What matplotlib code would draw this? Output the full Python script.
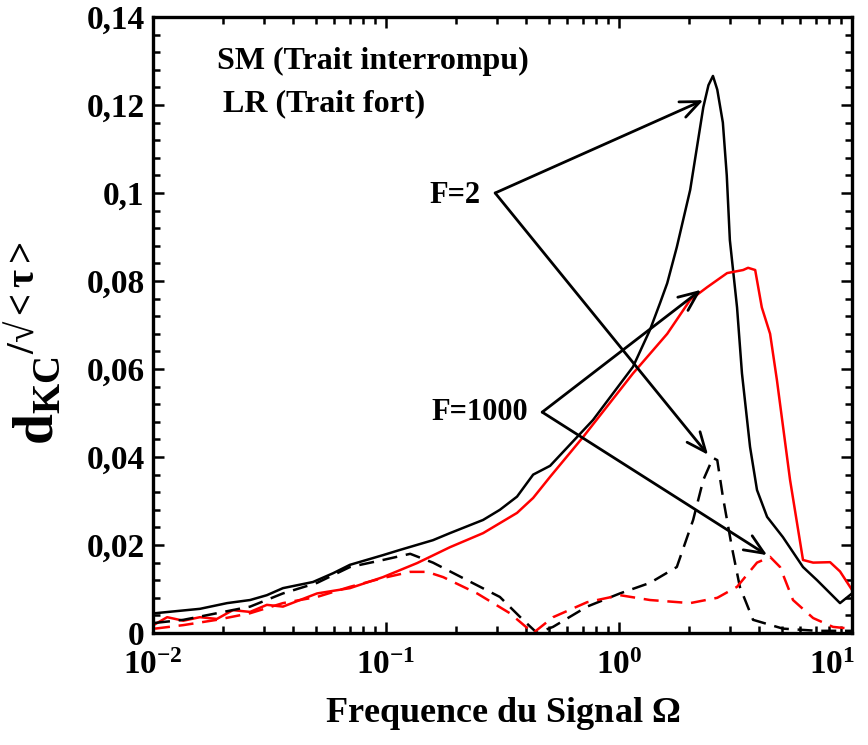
import matplotlib
matplotlib.use("Agg")
import matplotlib.pyplot as plt
import matplotlib.transforms as mtransforms
from matplotlib.ticker import FixedLocator, FixedFormatter, MultipleLocator, LogLocator, NullFormatter

plt.rcParams['font.family'] = ['Liberation Serif', 'DejaVu Serif']
plt.rcParams['font.weight'] = 'bold'
plt.rcParams['mathtext.fontset'] = 'custom'
plt.rcParams['mathtext.rm'] = 'Liberation Serif:bold'
plt.rcParams['mathtext.bf'] = 'Liberation Serif:bold'
plt.rcParams['mathtext.it'] = 'Liberation Serif:bold:italic'

# LR, F=2 (black solid)
lr2_x = [0.0102, 0.0159, 0.0208, 0.0261, 0.0308, 0.0361, 0.0486, 0.0593, 0.070, 0.097, 0.115, 0.159,
         0.188, 0.261, 0.308, 0.365, 0.428, 0.506, 0.773, 1.148, 1.358, 1.50, 1.61, 1.77, 2.02, 2.30,
         2.42, 2.53, 2.64, 2.79, 2.90, 2.99, 3.21, 3.37, 3.65, 3.91, 4.32, 5.05, 6.16, 7.08, 8.88, 10.0]
lr2_y = [0.0045, 0.0055, 0.0068, 0.0075, 0.0086, 0.0102, 0.0116, 0.0136, 0.0155, 0.0177, 0.0189, 0.0211,
         0.0227, 0.0257, 0.0280, 0.0310, 0.0360, 0.0380, 0.0484, 0.0605, 0.0689, 0.0750, 0.0795, 0.0877, 0.1007, 0.1195,
         0.1245, 0.1266, 0.1235, 0.1160, 0.1040, 0.0893, 0.0740, 0.0590, 0.0423, 0.0325, 0.0264, 0.0218, 0.0150, 0.0120, 0.0068, 0.0090]

# LR, F=1000 (red solid)
lr1000_x = [0.0102, 0.0115, 0.0135, 0.0159, 0.0188, 0.0220, 0.0261, 0.0308, 0.0361, 0.0506, 0.070, 0.097,
            0.136, 0.188, 0.261, 0.365, 0.428, 0.506, 0.700, 1.148, 1.61, 2.02, 2.39, 2.91, 3.41, 3.58,
            3.84, 4.10, 4.45, 4.76, 5.42, 6.16, 6.81, 8.05, 8.88, 10.0]
lr1000_y = [0.0020, 0.0036, 0.0028, 0.0036, 0.0032, 0.0052, 0.0048, 0.0064, 0.0060, 0.0090, 0.0102, 0.0127,
            0.0159, 0.0195, 0.0227, 0.0273, 0.0307, 0.0355, 0.0445, 0.0590, 0.0680, 0.0757, 0.0786, 0.0818, 0.0825, 0.0830,
            0.0825, 0.0740, 0.0680, 0.0575, 0.0348, 0.0166, 0.0160, 0.0161, 0.0140, 0.0098]

# SM, F=2 (black dashed)
sm2_x = [0.0102, 0.0135, 0.0188, 0.0261, 0.0361, 0.0506, 0.070, 0.097, 0.127, 0.159, 0.223, 0.308,
         0.387, 0.445, 0.521, 0.729, 1.009, 1.358, 1.77, 2.08, 2.30, 2.53, 2.64, 2.79, 3.05, 3.30,
         3.76, 5.05, 7.08, 10.0]
sm2_y = [0.0023, 0.0030, 0.0045, 0.0060, 0.0090, 0.0114, 0.0150, 0.0166, 0.0180, 0.0160, 0.0120, 0.0082,
         0.0030, 0.0000, 0.0014, 0.0060, 0.0090, 0.0114, 0.0150, 0.0257, 0.0348, 0.0398, 0.0393, 0.0310, 0.0195, 0.0105,
         0.0030, 0.0010, 0.0005, 0.0005]

# SM, F=1000 (red dashed)
sm1000_x = [0.0102, 0.0135, 0.0188, 0.0261, 0.0361, 0.0506, 0.070, 0.097, 0.127, 0.150, 0.176, 0.246,
            0.340, 0.428, 0.521, 0.729, 1.009, 1.358, 2.02, 2.64, 3.21, 3.91, 4.45, 4.91, 5.58, 6.81,
            8.28, 9.8]
sm1000_y = [0.0010, 0.0018, 0.0030, 0.0045, 0.0068, 0.0082, 0.0105, 0.0125, 0.0139, 0.0139, 0.0127, 0.0090,
            0.0045, 0.0000, 0.0036, 0.0070, 0.0086, 0.0075, 0.0068, 0.0080, 0.0105, 0.0160, 0.0173, 0.0150, 0.0075, 0.0034,
            0.0014, 0.0010]

y_ticks = [0, 0.02, 0.04, 0.06, 0.08, 0.10, 0.12, 0.14]
y_tick_labels = ['0', '0,02', '0,04', '0,06', '0,08', '0,1', '0,12', '0,14']
x_ticks = [0.01, 0.1, 1, 10]
x_tick_labels = [r'$10^{-2}$', r'$10^{-1}$', r'$10^{0}$', r'$10^{1}$']

# annotation labels / arrows
f2_label = 'F=2'
f2_origin = (0.294, 0.100)
f2_tips = [(2.30, 0.1211), (2.41, 0.0405)]
f1000_label = 'F=1000'
f1000_origin = (0.468, 0.0502)
f1000_tips = [(2.25, 0.0780), (4.32, 0.0177)]

fig = plt.figure(figsize=(8.68, 7.45), dpi=100)
ax = fig.add_axes([0.1763, 0.1503, 0.8053, 0.8269])

dash = (0, (6, 3.5))
ax.plot(lr2_x, lr2_y, color='black', lw=1.8)
ax.plot(lr1000_x, lr1000_y, color='#ff0000', lw=1.8)
ax.plot(sm2_x, sm2_y, color='black', lw=1.8, linestyle=dash)
ax.plot(sm1000_x, sm1000_y, color='#ff0000', lw=1.8, linestyle=dash)

ax.set_xscale('log')
ax.set_xlim(0.01, 10)
ax.set_ylim(0, 0.14)

ax.xaxis.set_major_locator(FixedLocator(x_ticks))
ax.xaxis.set_major_formatter(FixedFormatter(x_tick_labels))
ax.xaxis.set_minor_locator(LogLocator(base=10, subs=range(2, 10)))
ax.xaxis.set_minor_formatter(NullFormatter())
ax.yaxis.set_major_locator(FixedLocator(y_ticks))
ax.yaxis.set_major_formatter(FixedFormatter(y_tick_labels))
ax.yaxis.set_minor_locator(MultipleLocator(0.004))

ax.tick_params(which='both', direction='in', top=True, right=True, width=1.8, color='black')
ax.tick_params(which='major', length=8, labelsize=24, pad=6)
ax.tick_params(which='minor', length=5)
ax.tick_params(axis='x', which='major', pad=12)
for s in ax.spines.values():
    s.set_linewidth(2.4)

ax.set_xlabel(r'Frequence du Signal $\Omega$', fontsize=26, fontweight='bold', labelpad=10)
ax.set_ylabel(r'$\mathrm{d}_{\mathrm{KC}}{}^{\mathrm{/√<τ>}}$', fontsize=40, labelpad=14)
ax.yaxis.set_label_coords(-0.125, 0.47)

ax.text(0.0188, 0.1300, 'SM (Trait interrompu)', fontsize=23, fontweight='bold', ha='left', va='center')
ax.text(0.0200, 0.1203, 'LR (Trait fort)', fontsize=23, fontweight='bold', ha='left', va='center')

ax.text(0.255, 0.0995, f2_label, fontsize=22, fontweight='bold', ha='right', va='center')
ax.text(0.405, 0.0502, f1000_label, fontsize=22, fontweight='bold', ha='right', va='center')

arrowstyle = '->,head_length=1.4,head_width=0.6'
for tip in f2_tips:
    ax.annotate('', xy=tip, xytext=f2_origin,
                arrowprops=dict(arrowstyle=arrowstyle, color='black', lw=2, shrinkA=0, shrinkB=0))
for tip in f1000_tips:
    ax.annotate('', xy=tip, xytext=f1000_origin,
                arrowprops=dict(arrowstyle=arrowstyle, color='black', lw=2, shrinkA=0, shrinkB=0))

# keep last x tick label inside the figure
fig.canvas.draw()
labels = ax.get_xticklabels()
offset = mtransforms.ScaledTranslation(-20 / 100, 0, fig.dpi_scale_trans)
labels[-1].set_transform(labels[-1].get_transform() + offset)

fig.savefig('out.png', dpi=100)
